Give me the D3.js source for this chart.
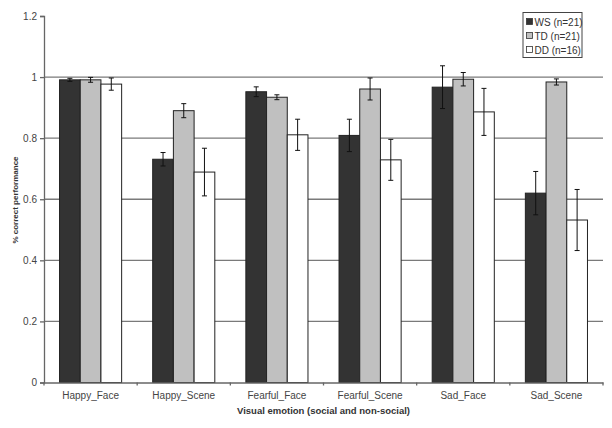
<!DOCTYPE html>
<html><head><meta charset="utf-8">
<script src="https://cdn.jsdelivr.net/npm/d3@7"></script>
<style>body{margin:0;background:#fff}svg{display:block;font-family:"Liberation Sans",Arial,sans-serif}</style>
</head><body><svg id="c" width="612" height="428"></svg>
<script>
const categories = ["Happy_Face","Happy_Scene","Fearful_Face","Fearful_Scene","Sad_Face","Sad_Scene"];
const seriesNames = ["WS (n=21)","TD (n=21)","DD (n=16)"];
const wsValues = [0.991, 0.731, 0.952, 0.809, 0.967, 0.620];
const tdValues = [0.991, 0.890, 0.934, 0.961, 0.993, 0.984];
const ddValues = [0.977, 0.689, 0.811, 0.729, 0.886, 0.532];
const wsErr = [0.005, 0.022, 0.016, 0.053, 0.070, 0.071];
const tdErr = [0.008, 0.023, 0.008, 0.036, 0.022, 0.010];
const ddErr = [0.020, 0.078, 0.051, 0.067, 0.077, 0.100];
const yTicks = [0, 0.2, 0.4, 0.6, 0.8, 1, 1.2];
const colors = ["#333333", "#c0c0c0", "#ffffff"];

const values = [wsValues, tdValues, ddValues];
const errs = [wsErr, tdErr, ddErr];
const svg = d3.select("#c");
const L = 44, R = 603, T = 16, B = 382.5;
const x = d3.scaleBand().domain(categories).range([L, R]).paddingInner(0).paddingOuter(0);
const xs = d3.scaleBand().domain([0,1,2]).range([0, x.bandwidth()]).paddingInner(0).paddingOuter(0.75);
const y = d3.scaleLinear().domain([0, 1.2]).range([B, T]);

// gridlines
svg.append("g").selectAll("line").data(yTicks.filter(t => t > 0 && t < 1.2)).join("line")
  .attr("x1", L).attr("x2", R).attr("y1", d => y(d)).attr("y2", d => y(d))
  .attr("stroke", "#7a7a7a").attr("stroke-width", 1.3);

// bars
const data = [];
categories.forEach((c, i) => values.forEach((s, j) => data.push({c, j, v: s[i], e: errs[j][i]})));
svg.append("g").selectAll("rect").data(data).join("rect")
  .attr("x", d => x(d.c) + xs(d.j)).attr("width", xs.bandwidth())
  .attr("y", d => y(d.v)).attr("height", d => y(0) - y(d.v))
  .attr("fill", d => colors[d.j]).attr("stroke", "#222").attr("stroke-width", 1);

// error bars
const eg = svg.append("g").attr("stroke", "#111").attr("stroke-width", 1);
data.forEach(d => {
  const cx = x(d.c) + xs(d.j) + xs.bandwidth() / 2;
  eg.append("line").attr("x1", cx).attr("x2", cx).attr("y1", y(d.v + d.e)).attr("y2", y(d.v - d.e));
  [d.v + d.e, d.v - d.e].forEach(v => eg.append("line").attr("x1", cx - 2.5).attr("x2", cx + 2.5).attr("y1", y(v)).attr("y2", y(v)));
});

// y axis
const ya = svg.append("g").attr("transform", `translate(${L},0)`)
  .call(d3.axisLeft(y).tickValues(yTicks).tickFormat(d => d3.format("")(+d.toFixed(1))).tickSize(4).tickPadding(3));
ya.select(".domain").attr("stroke", "#666").attr("stroke-width", 1.3);
ya.selectAll(".tick line").attr("stroke", "#666").attr("stroke-width", 1.3);
ya.selectAll(".tick text").attr("fill", "#444").style("font-size", "10px").style("font-family", "Liberation Sans, Arial, sans-serif");

// x axis
const xa = svg.append("g").attr("transform", `translate(0,${B})`)
  .call(d3.axisBottom(x).tickSize(0).tickPadding(9));
xa.select(".domain").attr("stroke", "#666").attr("stroke-width", 1.3);
xa.selectAll(".tick text").attr("fill", "#444").style("font-size", "10px").style("font-family", "Liberation Sans, Arial, sans-serif");
svg.append("g").selectAll("line").data(categories.map(c => x(c)).concat([R])).join("line")
  .attr("x1", d => d).attr("x2", d => d).attr("y1", B).attr("y2", B + 3)
  .attr("stroke", "#666").attr("stroke-width", 1.3);

// axis titles
svg.append("text").attr("x", (L + R) / 2).attr("y", 414).attr("text-anchor", "middle")
  .style("font-size", "9.5px").style("font-weight", "bold").attr("fill", "#333")
  .text("Visual emotion (social and non-social)");
svg.append("text").attr("transform", "translate(18,200) rotate(-90)").attr("text-anchor", "middle")
  .style("font-size", "8px").style("font-weight", "bold").attr("fill", "#333")
  .text("% correct performance");

// legend
const lg = svg.append("g");
lg.append("rect").attr("x", 523).attr("y", 12.5).attr("width", 59).attr("height", 45)
  .attr("fill", "#fff").attr("stroke", "#444").attr("stroke-width", 1);
seriesNames.forEach((n, i) => {
  const yy = 22 + i * 14;
  lg.append("rect").attr("x", 526.5).attr("y", yy - 3.5).attr("width", 6).attr("height", 6)
    .attr("fill", colors[i]).attr("stroke", "#333").attr("stroke-width", 0.8);
  lg.append("text").attr("x", 534.5).attr("y", yy + 3.5).style("font-size", "10px").attr("fill", "#333").text(n);
});
</script></body></html>
